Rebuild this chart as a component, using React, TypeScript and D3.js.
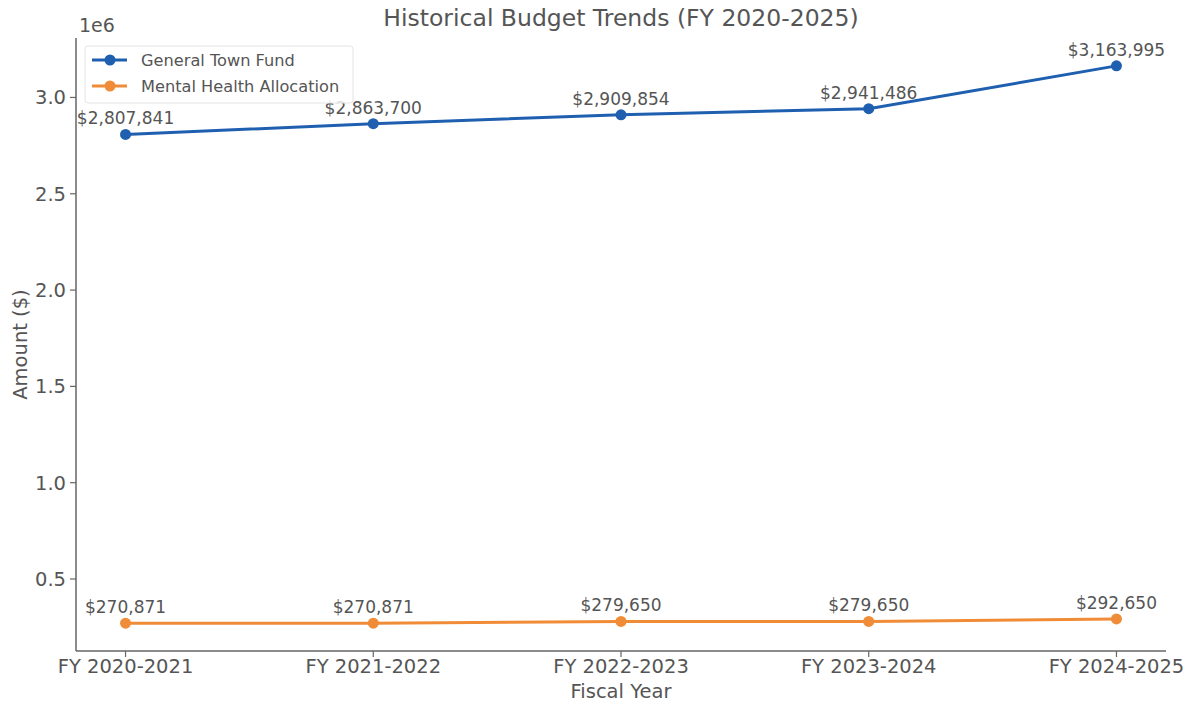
import React, { useEffect, useRef } from 'react';
import * as d3 from 'd3';

const years = ['FY 2020-2021', 'FY 2021-2022', 'FY 2022-2023', 'FY 2023-2024', 'FY 2024-2025'];
const generalFund = [2807841, 2863700, 2909854, 2941486, 3163995];
const mentalHealth = [270871, 270871, 279650, 279650, 292650];
const yTicks = [500000, 1000000, 1500000, 2000000, 2500000, 3000000];

const seriesNames = ['General Town Fund', 'Mental Health Allocation'];
const seriesColors = ['#1f5fb0', '#f08c38'];

export default function App() {
  const ref = useRef<SVGSVGElement>(null);

  useEffect(() => {
    const width = 1193, height = 706;
    const margin = { top: 38, right: 27, bottom: 55, left: 76 };
    const font = 'DejaVu Sans, sans-serif';
    const textColor = '#555';

    const svg = d3.select(ref.current);
    svg.selectAll('*').remove();
    svg.attr('width', width).attr('height', height);

    // matplotlib style 5% margins on both axes
    const x = d3.scalePoint().domain(years).range([0, 1]);
    const n = years.length - 1;
    const innerW = width - margin.left - margin.right;
    const step = innerW / (n * 1.1);
    const xPos = (i: number) => margin.left + step * (0.05 * n + i);

    const all = generalFund.concat(mentalHealth);
    const lo = d3.min(all)!, hi = d3.max(all)!;
    const pad = (hi - lo) * 0.05;
    const y = d3.scaleLinear()
      .domain([lo - pad, hi + pad])
      .range([height - margin.bottom, margin.top]);

    const g = svg.append('g');

    // y axis
    g.append('line')
      .attr('x1', margin.left).attr('x2', margin.left)
      .attr('y1', margin.top).attr('y2', height - margin.bottom)
      .attr('stroke', '#666').attr('stroke-width', 1.5);
    yTicks.forEach((t) => {
      g.append('line')
        .attr('x1', margin.left - 6).attr('x2', margin.left)
        .attr('y1', y(t)).attr('y2', y(t))
        .attr('stroke', '#666').attr('stroke-width', 1.2);
      g.append('text')
        .attr('x', margin.left - 10).attr('y', y(t))
        .attr('dy', '0.36em')
        .attr('text-anchor', 'end')
        .style('font', `19.5px ${font}`)
        .attr('fill', textColor)
        .text((t / 1e6).toFixed(1));
    });
    g.append('text')
      .attr('x', margin.left + 3).attr('y', 32)
      .style('font', `19px ${font}`)
      .attr('fill', textColor)
      .text('1e6');

    // x axis
    g.append('line')
      .attr('x1', margin.left).attr('x2', width - margin.right)
      .attr('y1', height - margin.bottom).attr('y2', height - margin.bottom)
      .attr('stroke', '#666').attr('stroke-width', 1.5);
    years.forEach((yr, i) => {
      g.append('line')
        .attr('x1', xPos(i)).attr('x2', xPos(i))
        .attr('y1', height - margin.bottom).attr('y2', height - margin.bottom + 6)
        .attr('stroke', '#666').attr('stroke-width', 1.2);
      g.append('text')
        .attr('x', xPos(i)).attr('y', 673)
        .attr('text-anchor', 'middle')
        .style('font', `19.5px ${font}`)
        .attr('fill', textColor)
        .text(yr);
    });

    // labels
    g.append('text')
      .attr('x', margin.left + innerW / 2).attr('y', 698)
      .attr('text-anchor', 'middle')
      .style('font', `19.5px ${font}`)
      .attr('fill', textColor)
      .text('Fiscal Year');
    g.append('text')
      .attr('transform', `translate(27,${(margin.top + height - margin.bottom) / 2}) rotate(-90)`)
      .attr('text-anchor', 'middle')
      .style('font', `19.5px ${font}`)
      .attr('fill', textColor)
      .text('Amount ($)');
    g.append('text')
      .attr('x', margin.left + innerW / 2).attr('y', 26)
      .attr('text-anchor', 'middle')
      .style('font', `23.5px ${font}`)
      .attr('fill', textColor)
      .text('Historical Budget Trends (FY 2020-2025)');

    // series
    const series = [generalFund, mentalHealth];
    const line = d3.line<number>()
      .x((_, i) => xPos(i))
      .y((d) => y(d));
    series.forEach((vals, si) => {
      g.append('path')
        .datum(vals)
        .attr('d', line)
        .attr('fill', 'none')
        .attr('stroke', seriesColors[si])
        .attr('stroke-width', 3);
      g.selectAll(null)
        .data(vals)
        .enter()
        .append('circle')
        .attr('cx', (_, i) => xPos(i))
        .attr('cy', (d) => y(d))
        .attr('r', 5.5)
        .attr('fill', seriesColors[si]);
      g.selectAll(null)
        .data(vals)
        .enter()
        .append('text')
        .attr('x', (_, i) => xPos(i))
        .attr('y', (d) => y(d) - 10)
        .attr('text-anchor', 'middle')
        .style('font', `17px ${font}`)
        .attr('fill', textColor)
        .text((d) => '$' + d3.format(',')(d));
    });

    // legend
    const lg = g.append('g').attr('transform', 'translate(85,46)');
    lg.append('rect')
      .attr('width', 268).attr('height', 57)
      .attr('rx', 3)
      .attr('fill', 'white').attr('fill-opacity', 0.8)
      .attr('stroke', '#e4e4e4');
    seriesNames.forEach((name, i) => {
      const ly = 14 + i * 26;
      lg.append('line')
        .attr('x1', 7).attr('x2', 42)
        .attr('y1', ly).attr('y2', ly)
        .attr('stroke', seriesColors[i]).attr('stroke-width', 3);
      lg.append('circle')
        .attr('cx', 25).attr('cy', ly).attr('r', 5.5)
        .attr('fill', seriesColors[i]);
      lg.append('text')
        .attr('x', 56).attr('y', ly)
        .attr('dy', '0.36em')
        .style('font', `16.2px ${font}`)
        .attr('fill', textColor)
        .text(name);
    });
    void x;
  }, []);

  return (
    <div style={{ position: 'absolute', left: 0, top: 0, background: 'white' }}>
      <svg ref={ref}></svg>
    </div>
  );
}
